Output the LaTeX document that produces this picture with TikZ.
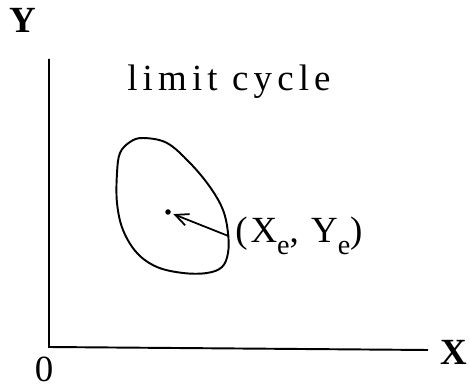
\documentclass[tikz,border=0pt]{standalone}
\usepackage{fontspec}
\setmainfont{Liberation Serif}
\usepackage{tikz}
\usetikzlibrary{arrows.meta}
\newcommand{\lowsub}[1]{\raisebox{-0.32em}{\fontsize{16}{16}\selectfont #1}}
\tikzset{
  axis/.style       = {line width=1.1pt},
  cycle/.style      = {line width=1.1pt, line join=round},
  ptr/.style        = {-{Straight Barb[length=2.6mm,width=2.4mm]}, line width=1pt},
  dot/.style        = {circle, fill, inner sep=0pt, minimum size=1.1mm},
  lbl/.style        = {font=\fontsize{21}{24}\selectfont, inner sep=0pt},
  axlbl/.style      = {font=\fontsize{21}{24}\selectfont\bfseries, inner sep=0pt},
}

\begin{document}
\begin{tikzpicture}[x=0.02cm,y=-0.02cm]
  \useasboundingbox (0,0) rectangle (470,391);
  % axes
  \coordinate (o) at (49,347);
  \coordinate (ytop) at (49,59);
  \coordinate (xend) at (428,350);
  \draw[axis] (ytop) -- (o) -- (xend);
  \node[axlbl, anchor=base] (ylab) at (23,33) {Y};
  \node[axlbl, anchor=base] (xlab) at (454,365) {X};
  \node[lbl, anchor=base] (zero) at (44,382) {0};
  \node[lbl, anchor=base west] (title) at (127,91)
    {\addfontfeatures{LetterSpace=14}limit cycle};
  % limit cycle
  \draw[cycle] plot[smooth cycle, tension=0.6] coordinates {
    (130,142) (143,138) (167,143) (190,163) (210,187) (223,210) (228,233)
    (228,253) (222,267) (207,273) (183,273) (157,267) (137,253) (123,230)
    (117,203) (117,173) (120,153)};
  % equilibrium point
  \node[dot] (eq) at (168,212) {};
  \node[lbl, anchor=base west] (eqlab) at (235,243)
    {\addfontfeatures{LetterSpace=8}(X\lowsub{e}, Y\lowsub{e})};
  \draw[ptr, shorten >=1.5pt] (eqlab.west) ++(-6,0) -- (eq);
\end{tikzpicture}
\end{document}
